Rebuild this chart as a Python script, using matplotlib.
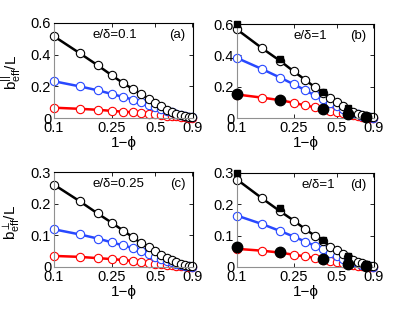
import numpy as np
import matplotlib
matplotlib.use('Agg')
import matplotlib.pyplot as plt

plt.rcParams['font.family'] = ['Liberation Sans', 'DejaVu Sans']

# 1 - phi values
x = [0.1, 0.15, 0.2, 0.25, 0.3, 0.35, 0.4, 0.45, 0.5, 0.55, 0.6,
     0.65, 0.7, 0.75, 0.8, 0.85, 0.9]
x_sim = [0.1, 0.2, 0.4, 0.6, 0.8]
xticks = [0.1, 0.25, 0.5, 0.9]
xticklabels = ['0.1', '0.25', '0.5', '0.9']

# (a) parallel, e/delta = 0.1
a_black = [0.516, 0.41, 0.333, 0.27, 0.22, 0.183, 0.15, 0.12, 0.095, 0.074,
           0.053, 0.038, 0.025, 0.017, 0.01, 0.006, 0.004]
a_blue = [0.232, 0.2, 0.175, 0.152, 0.133, 0.116, 0.1, 0.082, 0.07, 0.057,
          0.044, 0.036, 0.027, 0.019, 0.013, 0.008, 0.004]
a_red = [0.065, 0.058, 0.052, 0.045, 0.04, 0.036, 0.032, 0.028, 0.024, 0.019,
         0.015, 0.012, 0.01, 0.007, 0.005, 0.003, 0.002]

# (b) parallel, e/delta = 1
b_black = [0.565, 0.445, 0.365, 0.297, 0.244, 0.197, 0.159, 0.127, 0.1, 0.074,
           0.053, 0.038, 0.025, 0.017, 0.01, 0.006, 0.004]
b_blue = [0.383, 0.312, 0.258, 0.215, 0.178, 0.144, 0.123, 0.097, 0.075, 0.058,
          0.043, 0.032, 0.024, 0.015, 0.009, 0.004, 0.002]
b_red = [0.15, 0.13, 0.114, 0.097, 0.08, 0.069, 0.058, 0.047, 0.037, 0.03,
         0.024, 0.018, 0.013, 0.009, 0.006, 0.003, 0.002]
b_sq = [0.6, 0.375, 0.165, 0.064, 0.013]
b_dot = [0.155, 0.114, 0.058, 0.026, 0.006]

# (c) perpendicular, e/delta = 0.25
c_black = [0.26, 0.208, 0.169, 0.14, 0.115, 0.094, 0.075, 0.062, 0.049, 0.039,
           0.03, 0.023, 0.017, 0.011, 0.007, 0.004, 0.002]
c_blue = [0.119, 0.103, 0.09, 0.078, 0.068, 0.06, 0.051, 0.042, 0.033, 0.026,
          0.02, 0.015, 0.01, 0.007, 0.004, 0.002, 0.001]
c_red = [0.035, 0.032, 0.028, 0.025, 0.022, 0.019, 0.017, 0.014, 0.011, 0.009,
         0.007, 0.005, 0.004, 0.003, 0.002, 0.001, 0.001]

# (d) perpendicular, e/delta = 1
d_black = [0.279, 0.219, 0.178, 0.148, 0.121, 0.1, 0.083, 0.065, 0.053, 0.041,
           0.032, 0.023, 0.017, 0.012, 0.007, 0.004, 0.002]
d_blue = [0.164, 0.137, 0.115, 0.097, 0.081, 0.068, 0.057, 0.044, 0.036, 0.027,
          0.021, 0.016, 0.012, 0.007, 0.004, 0.002, 0.001]
d_red = [0.058, 0.052, 0.046, 0.039, 0.034, 0.029, 0.023, 0.019, 0.015, 0.012,
         0.008, 0.006, 0.004, 0.003, 0.002, 0.001, 0.001]
d_sq = [0.3, 0.189, 0.087, 0.034, 0.008]
d_dot = [0.063, 0.048, 0.026, 0.011, 0.003]

fig = plt.figure(figsize=(4.15, 3.13), dpi=100)
W, H = 415.0, 313.0

def make_ax(l, r, t, b):
    return fig.add_axes([l / W, 1 - b / H, (r - l) / W, (b - t) / H])

panels = [
    (make_ax(54, 193, 23, 118), a_black, a_blue, a_red, None, None, 0.6,
     [0, 0.2, 0.4, 0.6], ['0', '0.2', '0.4', '0.6'], 'e/\u03b4=0.1', 0.28, '(a)'),
    (make_ax(237, 374, 24, 118), b_black, b_blue, b_red, b_sq, b_dot, 0.6,
     [0, 0.2, 0.4, 0.6], ['0', '0.2', '0.4', '0.6'], 'e/\u03b4=1', 0.41, '(b)'),
    (make_ax(54, 193, 172, 267), c_black, c_blue, c_red, None, None, 0.3,
     [0, 0.1, 0.2, 0.3], ['0', '0.1', '0.2', '0.3'], 'e/\u03b4=0.25', 0.28, '(c)'),
    (make_ax(237, 374, 173, 267), d_black, d_blue, d_red, d_sq, d_dot, 0.3,
     [0, 0.1, 0.2, 0.3], ['0', '0.1', '0.2', '0.3'], 'e/\u03b4=1', 0.47, '(d)'),
]

for ax, blk, blu, red, sq, dot, ymax, yt, ytl, lab, lx, tag in panels:
    for y, c in [(red, 'red'), (blu, '#2848ff'), (blk, 'black')]:
        ax.plot(x, y, '-', color=c, lw=1.8, marker='o', ms=6,
                mfc='white', mec=c, mew=0.8, clip_on=False)
    if sq is not None:
        ax.plot(x_sim, sq, 's', color='black', ms=5, clip_on=False, zorder=5)
        ax.plot(x_sim, dot, 'o', color='black', ms=7.5, clip_on=False, zorder=5)
    ax.set_xscale('log')
    ax.set_xlim(0.1, 0.91)
    ax.set_ylim(0, ymax)
    ax.set_xticks(xticks)
    ax.set_xticklabels(xticklabels)
    ax.minorticks_off()
    ax.set_yticks(yt)
    ax.set_yticklabels(ytl)
    ax.tick_params(direction='in', top=True, right=True, length=3,
                   width=0.6, labelsize=10.5, pad=2)
    for s in ['left', 'bottom']:
        ax.spines[s].set_color('#909090')
    for s in ['top', 'right']:
        ax.spines[s].set_color('black')
    for s in ax.spines.values():
        s.set_linewidth(0.8)
    ax.set_xlabel('1\u2212\u03d5', fontsize=11, labelpad=1)
    ax.text(lx, 0.87, lab, transform=ax.transAxes, fontsize=9.5,
            ha='left', va='center')
    ax.text(0.945, 0.87, tag, transform=ax.transAxes, fontsize=9.5,
            ha='right', va='center')

fig.text(12 / W, 1 - 72 / H, r'$\mathregular{b_{eff}^{||}/L}$', rotation=90,
         ha='center', va='center', fontsize=11)
fig.text(12 / W, 1 - 222 / H, r'$\mathregular{b_{eff}^{\perp}/L}$', rotation=90,
         ha='center', va='center', fontsize=11)

fig.savefig('out.png', dpi=100)
